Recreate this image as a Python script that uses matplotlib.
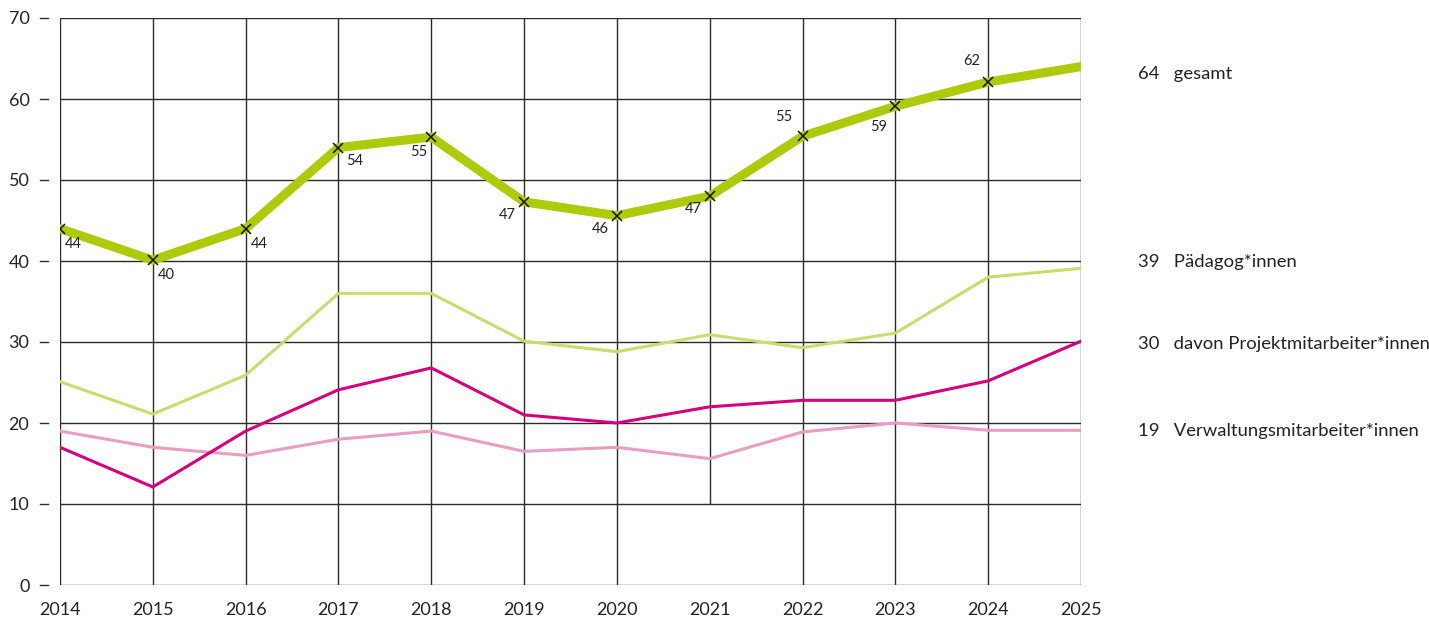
import matplotlib
matplotlib.use("Agg")
import matplotlib.pyplot as plt
import matplotlib.transforms as mtransforms

years = [2014, 2015, 2016, 2017, 2018, 2019, 2020, 2021, 2022, 2023, 2024, 2025]
gesamt = [44, 40.1, 44, 54, 55.3, 47.3, 45.6, 48, 55.4, 59.1, 62.1, 64]
gesamt_labels = ["44", "40", "44", "54", "55", "47", "46", "47", "55", "59", "62"]
paedagog = [25.1, 21.1, 25.9, 36, 36, 30.1, 28.8, 30.9, 29.3, 31.1, 38, 39.1]
projekt = [17, 12.1, 19, 24.1, 26.8, 21, 20, 22, 22.8, 22.8, 25.2, 30.1]
verwaltung = [19, 17, 16, 18, 19, 16.5, 17, 15.6, 18.9, 20, 19.1, 19.1]
yticks = [0, 10, 20, 30, 40, 50, 60, 70]
series_names = ["gesamt", "Pädagog*innen", "davon Projektmitarbeiter*innen", "Verwaltungsmitarbeiter*innen"]
series_end = ["64", "39", "30", "19"]

# layout: label offsets in pixels (dx, dy, ha, va)
label_offsets = [(5, -8, "left", "top"), (5, -8, "left", "top"), (5, -8, "left", "top"),
                 (8, -6, "left", "top"), (-4, -8, "right", "top"), (-8, -6, "right", "top"),
                 (-8, -6, "right", "top"), (-8, -6, "right", "top"), (-10, 12, "right", "bottom"),
                 (-8, -14, "right", "top"), (-8, 14, "right", "bottom")]
legend_y_px = [74, 262, 344, 431]

plt.rcParams['font.family'] = ['Lato', 'DejaVu Sans']
W, H = 1429, 621
fig = plt.figure(figsize=(W / 100, H / 100), dpi=100)
ax = fig.add_axes([60 / W, 1 - 585 / H, (1081 - 60) / W, (585 - 18) / H])
ax.set_xlim(years[0], years[-1])
ax.set_ylim(0, 70)

gridc = "#2b2b2b"
for yv in yticks:
    ax.axhline(yv, color=gridc, lw=1.0, zorder=1)
for yr in years:
    lo = 10 if yr == 2021 else 0
    ax.vlines(yr, lo, 70, color=gridc, lw=1.0, zorder=1)
for s in ax.spines.values():
    s.set_visible(False)

ax.plot(years, verwaltung, color="#EA9DC2", lw=2.2, zorder=3)
ax.plot(years, projekt, color="#D4007D", lw=2.2, zorder=4)
ax.plot(years, paedagog, color="#C9DD6E", lw=2.2, zorder=3)
ax.plot(years, gesamt, color="#AFCA0B", lw=6.5, solid_capstyle="round", solid_joinstyle="round", zorder=5)
ax.plot(years[:-1], gesamt[:-1], linestyle="none", marker="x", ms=7, mew=1.1, color="#111111", zorder=6)

for i, lab in enumerate(gesamt_labels):
    dx, dy, ha, va = label_offsets[i]
    ax.annotate(lab, (years[i], gesamt[i]), xytext=(dx * 0.72, dy * 0.72), textcoords="offset points",
                ha=ha, va=va, fontsize=10.5, color="#222222", zorder=7)

ax.set_xticks(years)
ax.set_xticklabels([str(y) for y in years], fontsize=13, color="#222222")
ax.tick_params(axis="x", length=0, pad=12)
ax.set_yticks(yticks)
ax.set_yticklabels([str(v) for v in yticks], fontsize=13, color="#222222")
ax.tick_params(axis="y", length=0, pad=22)

trans = mtransforms.blended_transform_factory(fig.transFigure, ax.transData)
for yv in yticks:
    ax.plot([40 / W, 48 / W], [yv, yv], transform=trans, color=gridc, lw=1.0, clip_on=False)

for name, val, ypx in zip(series_names, series_end, legend_y_px):
    fig.text(1138 / W, 1 - ypx / H, f"{val}   {name}", fontsize=13.3, color="#222222", va="center", ha="left")

fig.savefig("out.png", dpi=100, facecolor="white")
